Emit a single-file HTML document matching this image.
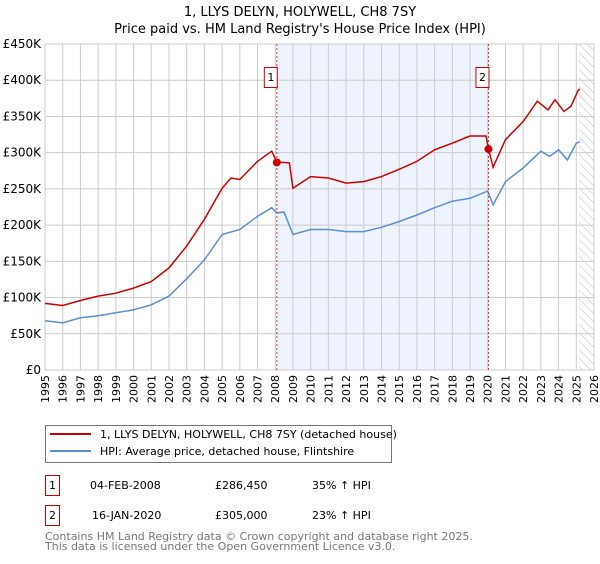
<!DOCTYPE html>
<html><head><meta charset="utf-8"><style>
body{margin:0;background:#fff;font-family:"DejaVu Sans","Liberation Sans",sans-serif;}
svg text{font-family:"DejaVu Sans","Liberation Sans",sans-serif;}
</style></head><body>
<svg id="c" width="600" height="560" xmlns="http://www.w3.org/2000/svg">
<defs><pattern id="hatch" width="6" height="6" patternUnits="userSpaceOnUse" patternTransform="rotate(-45)"><line x1="0" y1="0" x2="0" y2="6" stroke="#bbb" stroke-width="1"/></pattern></defs>
<text x="300" y="16" text-anchor="middle" font-size="13">1, LLYS DELYN, HOLYWELL, CH8 7SY</text>
<text x="300" y="33" text-anchor="middle" font-size="13">Price paid vs. HM Land Registry's House Price Index (HPI)</text>
<g id="plot"></g>
<g>
<rect x="45.5" y="425.5" width="346" height="37" fill="#fff" stroke="#777"/>
<line x1="50" y1="434" x2="91" y2="434" stroke="#cc0000" stroke-width="2"/>
<text x="100" y="438" font-size="11">1, LLYS DELYN, HOLYWELL, CH8 7SY (detached house)</text>
<line x1="50" y1="451" x2="91" y2="451" stroke="#5b8fd4" stroke-width="2"/>
<text x="100" y="455" font-size="11">HPI: Average price, detached house, Flintshire</text>
</g>
<g font-size="11">
<rect x="45.5" y="475.5" width="14" height="20" fill="#fff" stroke="#cc0000"/><text x="52.5" y="489" text-anchor="middle">1</text>
<text x="90" y="489">04-FEB-2008</text><text x="215" y="489">£286,450</text><text x="312" y="489">35% ↑ HPI</text>
<rect x="45.5" y="505.5" width="14" height="20" fill="#fff" stroke="#cc0000"/><text x="52.5" y="519" text-anchor="middle">2</text>
<text x="92" y="519">16-JAN-2020</text><text x="215" y="519">£305,000</text><text x="312" y="519">23% ↑ HPI</text>
</g>
<text x="45" y="540" font-size="11" fill="#777">Contains HM Land Registry data © Crown copyright and database right 2025.</text>
<text x="45" y="550" font-size="11" fill="#777">This data is licensed under the Open Government Licence v3.0.</text>
</svg>
<script>
const hpiYears=[1995,1996,1997,1998,1999,2000,2001,2002,2003,2004,2005,2006,2007,2007.8,2008.1,2008.5,2009,2010,2011,2012,2013,2014,2015,2016,2017,2018,2019,2020,2020.3,2021,2022,2023,2023.5,2024,2024.5,2025,2025.2];
const hpiValues=[68,65,72,75,79,83,90,102,126,152,187,194,212,224,217,218,187,194,194,191,191,197,205,214,224,233,237,247,228,260,279,302,295,304,290,313,315];
const priceYears=[1995,1996,1997,1998,1999,2000,2001,2002,2003,2004,2005,2005.5,2006,2007,2007.8,2008.1,2008.8,2009,2010,2011,2012,2013,2014,2015,2016,2017,2018,2019,2019.9,2020.04,2020.3,2021,2022,2022.8,2023.4,2023.8,2024.3,2024.7,2025.1,2025.2];
const priceValues=[92,89,96,102,106,113,122,141,171,208,251,265,263,288,302,287,286,251,267,265,258,260,267,277,288,304,313,323,323,305,280,318,343,371,359,373,357,364,386,388];
const yTicks=[0,50,100,150,200,250,300,350,400,450];
const yTickLabels=["£0","£50K","£100K","£150K","£200K","£250K","£300K","£350K","£400K","£450K"];
const saleYears=[2008.09,2020.04];
const saleValues=[286.45,305];
const saleLabels=["1","2"];
const L=45,R=594,T=44,B=370,Y0=1995,Y1=2026,VMAX=450;
const x=t=>L+(t-Y0)/(Y1-Y0)*(R-L);
const y=v=>B-v/VMAX*(B-T);
const ns="http://www.w3.org/2000/svg";
const g=document.getElementById('plot');
function mk(tag,at){const e=document.createElementNS(ns,tag);for(const k in at)e.setAttribute(k,at[k]);g.appendChild(e);return e;}
let r=mk('rect',{x:x(saleYears[0]),y:T,width:x(saleYears[1])-x(saleYears[0]),height:B-T,fill:'#eef3fd'});


let h=mk('rect',{x:x(2025.15),y:T,width:R-x(2025.15),height:B-T,fill:'url(#hatch)'});


for(let yr=Y0;yr<=Y1;yr++){
 let l=mk('line',{x1:x(yr),x2:x(yr),y1:T,y2:B,stroke:'#ccc'});
 
 
 let t=mk('text',{x:0,y:0,'font-size':11,'text-anchor':'end',transform:`translate(${x(yr)+4},${B+5}) rotate(-90)`});
 t.textContent=yr;
 
 
}
yTicks.forEach((v,i)=>{
 let l=mk('line',{x1:L,x2:R,y1:y(v),y2:y(v),stroke:'#ccc'});
 
 
 let t=mk('text',{x:L-4,y:y(v)+4,'font-size':12,'text-anchor':'end'});
 t.textContent=yTickLabels[i];
 
 
});
let bd=mk('rect',{x:L,y:T,width:R-L,height:B-T,fill:'none',stroke:'#ccc'});


const path=(xs,vs)=>xs.map((t,i)=>(i?'L':'M')+x(t).toFixed(1)+','+y(vs[i]).toFixed(1)).join('');
let hp=mk('path',{d:path(hpiYears,hpiValues),fill:'none',stroke:'#5b8fd4','stroke-width':1.5});


let pp=mk('path',{d:path(priceYears,priceValues),fill:'none',stroke:'#cc0000','stroke-width':1.5});


saleYears.forEach((t,i)=>{
 let l=mk('line',{x1:x(t),x2:x(t),y1:T,y2:B,stroke:'#e03030','stroke-dasharray':'2,2'});
 
 
 let c=mk('circle',{cx:x(t),cy:y(saleValues[i]),r:4,fill:'#cc0000'});
 
 
 let b=mk('rect',{x:x(t)-12.5,y:67.5,width:13,height:20,fill:'#fff',stroke:'#cc0000'});
 
 
 let tx=mk('text',{x:x(t)-6,y:81,'font-size':11,'text-anchor':'middle'});
 tx.textContent=saleLabels[i];
 
 
});
</script>
</body></html>
